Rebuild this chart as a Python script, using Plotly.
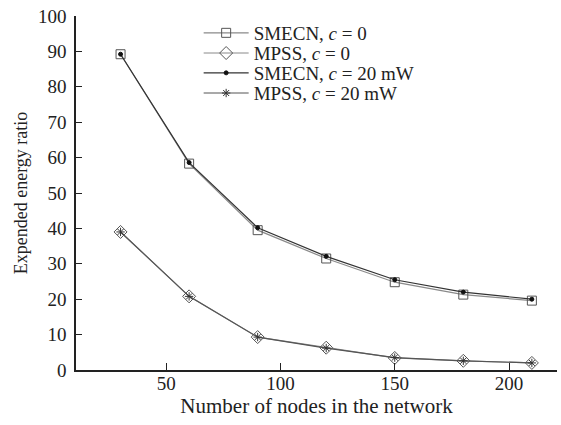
import plotly.graph_objects as go

nodes = [30, 60, 90, 120, 150, 180, 210]
smecn_c0 = [89.2, 58.3, 39.5, 31.5, 24.8, 21.3, 19.6]
mpss_c0 = [39.0, 20.8, 9.3, 6.3, 3.4, 2.6, 2.0]
smecn_c20 = [89.2, 58.6, 40.2, 32.1, 25.5, 22.0, 20.0]
mpss_c20 = [39.0, 20.8, 9.3, 6.2, 3.5, 2.6, 2.0]

series = [
    ("SMECN, <i>c</i> = 0", smecn_c0, "square-open", 9, "#8a8a8a", "#555555"),
    ("MPSS, <i>c</i> = 0", mpss_c0, "diamond-open", 10, "#8a8a8a", "#555555"),
    ("SMECN, <i>c</i> = 20 mW", smecn_c20, "circle", 4, "#333333", "#111111"),
    ("MPSS, <i>c</i> = 20 mW", mpss_c20, "asterisk-open", 7, "#555555", "#333333"),
]

font = "Liberation Serif, Times New Roman, serif"
legend_rows = [0.952, 0.895, 0.839, 0.782]
legend_names = ["legend", "legend2", "legend3", "legend4"]

fig = go.Figure()
for (name, ys, sym, size, lc, mc), lg in zip(series, legend_names):
    fig.add_trace(go.Scatter(
        x=nodes, y=ys, name=name, mode="lines+markers", legend=lg,
        line=dict(color=lc, width=1.2),
        marker=dict(symbol=sym, size=size, color=mc, line=dict(color=mc, width=1)),
    ))

layout_legends = {}
for lg, yy in zip(legend_names, legend_rows):
    layout_legends[lg] = dict(
        x=0.255, y=yy, xanchor="left", yanchor="middle",
        bgcolor="rgba(0,0,0,0)", font=dict(size=19, family=font, color="#222"),
        itemwidth=45, borderwidth=0,
    )

fig.update_layout(
    width=561, height=425,
    margin=dict(l=76, r=4, t=16, b=55),
    paper_bgcolor="white", plot_bgcolor="white",
    font=dict(family=font, size=19, color="#222222"),
    showlegend=True,
    xaxis=dict(range=[10.5, 221], tickvals=[50, 100, 150, 200],
               ticks="inside", ticklen=7, tickcolor="#222", showline=True,
               linecolor="#222", linewidth=1.5, showgrid=False, zeroline=False,
               automargin=False, ticklabelstandoff=-5,
               title=dict(text="Number of nodes in the network", standoff=2,
                          font=dict(size=21))),
    yaxis=dict(range=[0, 100], tickvals=list(range(0, 101, 10)),
               ticks="inside", ticklen=6, tickcolor="#222", showline=True,
               linecolor="#222", linewidth=1.5, showgrid=False, zeroline=False,
               automargin=False, ticklabelstandoff=4,
               title=dict(text="Expended energy ratio", standoff=6,
                          font=dict(size=18))),
    **layout_legends,
)
fig.write_html("out.html", config={"displayModeBar": False},
               post_script="document.body.style.margin='0';")
